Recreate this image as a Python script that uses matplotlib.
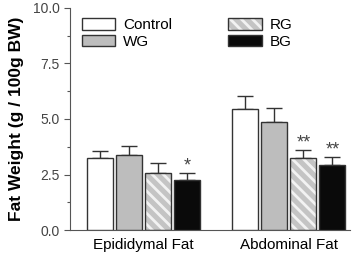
import matplotlib
matplotlib.use('Agg')

import matplotlib.pyplot as plt
import numpy as np
from matplotlib.patches import Patch
from matplotlib.ticker import MultipleLocator

plt.rcParams['font.family'] = ['Liberation Sans', 'DejaVu Sans']
plt.rcParams['hatch.linewidth'] = 2.0

categories = ['Epididymal Fat', 'Abdominal Fat']
groups = ['Control', 'WG', 'RG', 'BG']
means = {
    'Control': [3.24, 5.46],
    'WG': [3.38, 4.88],
    'RG': [2.55, 3.24],
    'BG': [2.24, 2.95],
}
errors = {
    'Control': [0.33, 0.59],
    'WG': [0.42, 0.63],
    'RG': [0.48, 0.36],
    'BG': [0.33, 0.32],
}
marks = {
    'Control': ['', ''],
    'WG': ['', ''],
    'RG': ['', '**'],
    'BG': ['*', '**'],
}

faces = {'Control': 'white', 'WG': '#bdbdbd', 'RG': '#c4c4c4', 'BG': '#0a0a0a'}
hatches = {'Control': None, 'WG': None, 'RG': '\\\\\\', 'BG': None}
edge = '#333333'

fig = plt.figure(figsize=(3.57, 2.6), dpi=100)
ax = fig.add_axes([0.196, 0.115, 0.784, 0.855])

x = np.arange(len(categories))
width = 0.18
pitch = 0.2
for i, g in enumerate(groups):
    pos = x + (i - 1.5) * pitch
    if hatches[g]:
        ax.bar(pos, means[g], width, color=faces[g], edgecolor='#f2f2f2',
               hatch=hatches[g], linewidth=0, zorder=2)
        ax.bar(pos, means[g], width, fill=False, edgecolor=edge,
               linewidth=1.0, zorder=3)
    else:
        ax.bar(pos, means[g], width, color=faces[g], edgecolor=edge,
               linewidth=1.0, zorder=3)
    ax.errorbar(pos, means[g], yerr=[np.zeros(len(x)), errors[g]], fmt='none',
                ecolor=edge, elinewidth=1.0, capsize=6, capthick=1.0, zorder=1)
    for p, m, e, s in zip(pos, means[g], errors[g], marks[g]):
        if s:
            ax.text(p, m + e - 0.05, s, ha='center', va='bottom',
                    fontsize=13, color='#444444')

ax.set_ylim(0, 10)
ax.set_xlim(-0.505, 1.42)
ax.yaxis.set_major_locator(MultipleLocator(2.5))
ax.yaxis.set_minor_locator(MultipleLocator(1.25))
ax.set_yticks(np.arange(0, 10.1, 2.5))
ax.set_yticklabels(['0.0', '2.5', '5.0', '7.5', '10.0'])
ax.set_xticks(x)
ax.set_xticklabels(categories, fontsize=11)
ax.tick_params(axis='x', length=0, pad=6)
ax.tick_params(axis='y', which='major', length=4, width=0.8, colors='#555555',
               labelsize=10, labelcolor='#444444')
ax.tick_params(axis='y', which='minor', length=2.5, width=0.8, colors='#555555')
for side in ['top', 'right']:
    ax.spines[side].set_visible(False)
for side in ['left', 'bottom']:
    ax.spines[side].set_color('#555555')
    ax.spines[side].set_linewidth(0.8)

ax.set_ylabel('Fat Weight (g / 100g BW)', fontsize=12.5, fontweight='bold',
              labelpad=6)

handles = []
for g in groups:
    if hatches[g]:
        handles.append((Patch(facecolor=faces[g], edgecolor='#f2f2f2',
                              hatch=hatches[g], linewidth=0),
                        Patch(fill=False, edgecolor=edge, linewidth=1.0)))
    else:
        handles.append(Patch(facecolor=faces[g], edgecolor=edge, linewidth=1.0))
ax.legend(handles, groups, ncol=2, loc='upper left', bbox_to_anchor=(0.02, 0.98),
          frameon=False, fontsize=11, handlelength=2.2, handleheight=0.75,
          handletextpad=0.5, columnspacing=3.7, labelspacing=0.15,
          borderaxespad=0)

fig.savefig('out.png', dpi=100)
